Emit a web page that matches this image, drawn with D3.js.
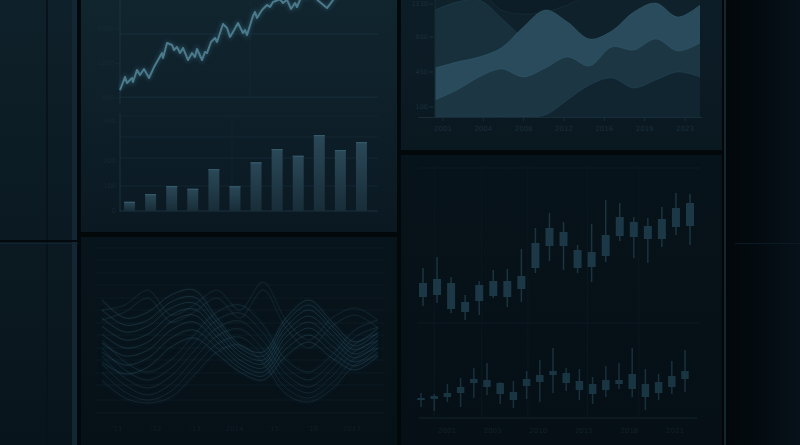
<!DOCTYPE html>
<html><head><meta charset="utf-8">
<script src="https://cdn.jsdelivr.net/npm/d3@7"></script>
<style>html,body{margin:0;padding:0;background:#050d12;overflow:hidden}svg{display:block}</style>
</head><body>
<svg id="c" width="800" height="445"></svg>
<script>
// ---------- DATA ----------
// Line chart (top-left)
const lineDays = [0,5,7,12,13,17,20,24,29,34,42,43,47,52,54,57,60,63,68,72,75,77,82,85,87,91,95,97,103,107,110,113,118,123,125,127,133,135,137,142,147,150,153,160,163,167,171,175,177,182,187,192,198,207,211,213,218,225];
const lineValues = [967,1080,1028,1072,1037,1141,1098,1150,1072,1167,1289,1246,1376,1359,1315,1341,1289,1333,1228,1289,1254,1324,1228,1298,1289,1385,1420,1385,1541,1507,1428,1472,1550,1463,1489,1446,1611,1646,1593,1663,1707,1689,1733,1755,1724,1752,1672,1724,1689,1790,1770,1810,1745,1680,1724,1750,1800,1830];
const lineTicks = [900,1200,1500];
const lineGrid = [905,1455];

// Bar chart (top-left, lower)
const barCats = ["Jan","Feb","Mar","Apr","May","Jun","Jul","Aug","Sep","Oct","Nov","Dec"];
const barValues = [37,68,100,89,168,99,195,248,221,304,244,276];
const barTicks = [0,100,200,360];
const barGrid = [0,100,212,296,380];

// Wave lines (bottom-left)
const waveKnots = [0,1,2,3,4,5,6,7,8,9,10,11,12];
const waveA1 = [120,102,108,125,130,102,75,68,102,120,98,78,92];
const waveA2 = [110,95,100,118,123,98,72,64,98,115,94,74,88];
const waveA3 = [102,88,94,112,117,93,68,60,93,110,90,70,84];
const waveA4 = [94,80,86,105,111,88,64,56,88,104,85,66,80];
const waveA5 = [86,72,78,98,105,83,60,52,83,98,80,62,76];
const waveA6 = [77,64,70,90,98,78,56,48,77,92,74,58,72];
const waveA7 = [68,55,62,82,90,72,52,44,71,85,68,54,68];
const waveA8 = [58,46,53,73,82,66,48,40,64,78,62,50,64];
const waveB1 = [80,58,48,60,85,108,115,95,60,48,65,90,100];
const waveB2 = [72,50,40,52,77,100,107,87,53,40,58,83,93];
const waveB3 = [64,42,32,44,69,92,99,79,46,33,51,76,86];
const waveB4 = [56,35,25,36,61,84,91,71,39,27,44,69,79];
const waveB5 = [48,28,20,29,53,76,83,64,32,22,37,62,72];
const waveB6 = [40,22,17,23,45,68,75,57,26,18,31,55,65];
const waveC1 = [110,115,130,105,115,130,110,138,100,80,102,112,100];
const waveC2 = [100,108,122,98,108,122,102,130,92,72,94,105,92];
const waveGrid = [172,160,147,135,122,110,97,85,72,60,47,35,20,7];
const waveLabels = ["'11","'12","'13","2014","'15","'16","2017"];

// Area chart (top-right)
const areaYears = [2000,2002,2004,2006,2008,2010,2012,2014,2016,2018,2020,2022,2024];
const area0 = [1270,1270,1270,1070,1030,1050,1120,1220,1270,1270,1270,1270,1270];
const area1 = [1070,1150,1170,990,790,670,620,570,590,650,690,670,710];
const area2 = [490,550,600,690,900,1070,950,780,860,1050,1140,1000,1120];
const area3 = [170,270,400,480,400,490,600,510,700,670,780,660,740];
const area4 = [0,0,0,0,0,20,170,320,390,290,370,450,400];
const areaTicks = [100,450,800,1130];
const areaLabels = ["2001","2004","2008","2012","2016","2019","2023"];

// Candles (bottom-right): [open, close, high, low]
const candlesUpper = [
 [153,167,182,144],[155,171,193,147],[167,141,173,137],[148,138,155,130],[149,165,169,135],
 [169,154,180,152],[153,169,181,143],[161,174,201,148],[182,207,222,177],[204,222,237,189],
 [218,204,228,180],[200,182,205,177],[183,198,226,168],[194,215,250,188],[214,233,247,209],
 [228,213,233,192],[211,224,232,187],[211,231,243,203],[223,242,257,215],[224,247,256,205]];
const candlesLower = [
 [50,52,57,43],[51,54,56,39],[53,57,66,48],[57,63,72,43],[67,71,82,52],[70,63,87,55],
 [67,56,68,46],[58,50,69,42],[64,71,79,51],[68,75,90,48],[75,79,102,57],[77,67,82,59],
 [69,60,81,50],[66,56,73,46],[60,70,84,53],[66,70,87,61],[61,76,102,53],[66,53,81,40],
 [57,68,76,50],[63,74,89,56],[71,79,100,58]];
const candleLabels = ["2001","2003","2010","2015","2018","2021"];
const candleGridIdx = [1,4.6,8.1,12.6,16.5];
const candleGridY = [282,127];

// ---------- DRAW ----------
const svg = d3.select('#c');
const defs = svg.append('defs');
function grad(id, x2, y2, stops){
  const g = defs.append('linearGradient').attr('id',id).attr('x1',0).attr('y1',0).attr('x2',x2).attr('y2',y2);
  stops.forEach(([o,c])=>g.append('stop').attr('offset',o).attr('stop-color',c));
}
grad('gLeft',0,1,[[0,'#0e2029'],[1,'#08141b']]);
grad('gA',0,1,[[0,'#11252f'],[0.5,'#0e1f29'],[1,'#0a1821']]);
grad('gB',0,1,[[0,'#08141b'],[1,'#061017']]);
grad('gC',0,1,[[0,'#0d1d27'],[1,'#0a1820']]);
grad('gD',0,1,[[0,'#07131a'],[1,'#050f15']]);
grad('gR',1,0,[[0,'#02070a'],[1,'#061119']]);
grad('gBar',0,1,[[0,'#2a4858'],[1,'#182d38']]);
const f = defs.append('filter').attr('id','glow').attr('x','-20%').attr('y','-20%').attr('width','140%').attr('height','140%');
f.append('feGaussianBlur').attr('stdDeviation',2);
defs.append('clipPath').attr('id','clipArea').append('rect').attr('x',435).attr('y',0).attr('width',265).attr('height',117);
defs.append('clipPath').attr('id','clipLine').append('rect').attr('x',118).attr('y',0).attr('width',262).attr('height',115);

const rect=(x,y,w,h,fill)=>svg.append('rect').attr('x',x).attr('y',y).attr('width',w).attr('height',h).attr('fill',fill);
rect(0,0,800,445,'#050d12');
rect(0,0,80,445,'url(#gLeft)');
rect(46,0,2,445,'#07121a');
rect(72,0,5,445,'#132631');
rect(77,0,4,445,'#03080c');
rect(0,240,78,2,'#04090d');
rect(0,243,78,1,'#112230');
rect(81,0,316,232,'url(#gA)');
rect(78,232,322,5,'#03080b');
rect(81,237,316,208,'url(#gB)');
rect(397,0,4,445,'#03080b');
rect(401,0,321,150,'url(#gC)');
rect(401,150,321,5,'#03080b');
rect(401,155,321,290,'url(#gD)');
rect(722,0,2,445,'#020507');
rect(724,0,2,445,'#14262f');
rect(726,0,74,445,'url(#gR)');
rect(735,243,65,1,'#0b1a22');

const font = 'DejaVu Sans, sans-serif';
function label(g,x,y,t,anchor,fill,size){
  g.append('text').attr('x',x).attr('y',y).attr('text-anchor',anchor).attr('dominant-baseline','middle')
   .attr('font-family',font).attr('font-size',size||7).attr('fill',fill).text(t);
}

// ---- Line chart ----
const gL = svg.append('g');
const xL = d3.scaleLinear().domain([0,260]).range([120,380]);
const yL = d3.scaleLinear().domain([750,1750]).range([115,0]);
lineGrid.forEach(v=>gL.append('line').attr('x1',120).attr('x2',378).attr('y1',yL(v)).attr('y2',yL(v)).attr('stroke','#17303c').attr('stroke-width',1));
gL.append('line').attr('x1',250).attr('x2',250).attr('y1',0).attr('y2',97).attr('stroke','#122833');
gL.append('line').attr('x1',120).attr('x2',120).attr('y1',0).attr('y2',104).attr('stroke','#1a3340');
lineTicks.forEach(v=>{
  label(gL,114,yL(v),String(v),'end','#172a34',6.5);
  gL.append('line').attr('x1',115).attr('x2',119).attr('y1',yL(v)).attr('y2',yL(v)).attr('stroke','#172a34');
});
const lineGen = d3.line().x((d,i)=>xL(lineDays[i])).y(d=>yL(d));
const gLc = gL.append('g').attr('clip-path','url(#clipLine)');
gLc.append('path').attr('d',lineGen(lineValues)).attr('fill','none').attr('stroke','#3f7385').attr('stroke-width',3).attr('opacity',0.45).attr('filter','url(#glow)');
gLc.append('path').attr('d',lineGen(lineValues)).attr('fill','none').attr('stroke','#4a7a8b').attr('stroke-width',2).attr('stroke-linejoin','round');

// ---- Bar chart ----
const gBar = svg.append('g');
const xB = d3.scaleBand().domain(barCats).range([119,372]).paddingInner(0.48).paddingOuter(0.24);
const yB = d3.scaleLinear().domain([0,380]).range([211,116]);
barGrid.forEach(v=>gBar.append('line').attr('x1',120).attr('x2',378).attr('y1',yB(v)).attr('y2',yB(v)).attr('stroke',v===0?'#1b3340':'#132733'));
gBar.append('line').attr('x1',232).attr('x2',232).attr('y1',116).attr('y2',211).attr('stroke','#10232d');
gBar.append('line').attr('x1',120).attr('x2',120).attr('y1',113).attr('y2',212).attr('stroke','#1a3340');
barTicks.forEach(v=>label(gBar,116,yB(v),String(v),'end','#162833',6.5));
barCats.forEach((c,i)=>{
  gBar.append('rect').attr('x',xB(c)).attr('y',yB(barValues[i])).attr('width',xB.bandwidth()).attr('height',yB(0)-yB(barValues[i])).attr('fill','url(#gBar)');
  gBar.append('rect').attr('x',xB(c)).attr('y',yB(barValues[i])).attr('width',xB.bandwidth()).attr('height',1.2).attr('fill','#36596a');
});

// ---- Wave chart ----
const gW = svg.append('g');
const xW = d3.scaleLinear().domain([0,12]).range([102,378]);
const yW = d3.scaleLinear().domain([0,180]).range([420,240]);
waveGrid.forEach(v=>gW.append('line').attr('x1',96).attr('x2',384).attr('y1',yW(v)).attr('y2',yW(v)).attr('stroke','#0c1a22'));
const wGen = d3.line().x((d,i)=>xW(waveKnots[i])).y(d=>yW(d)).curve(d3.curveCatmullRom.alpha(0.5));
[waveC1,waveC2].forEach(w=>{
  gW.append('path').attr('d',wGen(w)).attr('fill','none').attr('stroke','#1f3845').attr('stroke-width',1.4).attr('opacity',0.35);
});
[waveB1,waveB2,waveB3,waveB4,waveB5,waveB6].forEach((w,k)=>{
  gW.append('path').attr('d',wGen(w)).attr('fill','none').attr('stroke','#2a4c5d').attr('stroke-width',1.2).attr('opacity',0.25).attr('filter','url(#glow)');
  gW.append('path').attr('d',wGen(w)).attr('fill','none').attr('stroke','#2c5062').attr('stroke-width',0.8).attr('opacity',0.4);
});
[waveA1,waveA2,waveA3,waveA4,waveA5,waveA6,waveA7,waveA8].forEach((w,k)=>{
  gW.append('path').attr('d',wGen(w)).attr('fill','none').attr('stroke','#2f5a6e').attr('stroke-width',1.2).attr('opacity',0.22).attr('filter','url(#glow)');
  gW.append('path').attr('d',wGen(w)).attr('fill','none').attr('stroke','#335d70').attr('stroke-width',0.8).attr('opacity',0.45);
});
const xWl = d3.scalePoint().domain(waveLabels).range([117,352]);
waveLabels.forEach(t=>label(gW,xWl(t),429,t,'middle','#101e26',7));

// ---- Area chart ----
const gA = svg.append('g');
const xA = d3.scaleLinear().domain([2000,2024]).range([435,700]);
const yA = d3.scaleLinear().domain([0,1170]).range([117,0]);
const aGen = d3.area().x((d,i)=>xA(areaYears[i])).y0(yA(0)).y1(d=>yA(d)).curve(d3.curveCatmullRom.alpha(0.5));
const tGen = d3.line().x((d,i)=>xA(areaYears[i])).y(d=>yA(d)).curve(d3.curveCatmullRom.alpha(0.5));
const gAc = gA.append('g').attr('clip-path','url(#clipArea)');
const layers = [[area0,'#0f212b',0.12],[area1,'#17303c',0.18],[area2,'#294b5b',0.3],[area3,'#1c3644',0.22],[area4,'#112531',0.15]];
layers.forEach(([d,c,so])=>{
  gAc.append('path').attr('d',aGen(d)).attr('fill',c);
  gAc.append('path').attr('d',tGen(d)).attr('fill','none').attr('stroke','#4a7a8c').attr('stroke-opacity',so).attr('stroke-width',1);
});
gA.append('line').attr('x1',435).attr('x2',435).attr('y1',0).attr('y2',117).attr('stroke','#182c37');
gA.append('line').attr('x1',418).attr('x2',702).attr('y1',117.5).attr('y2',117.5).attr('stroke','#182c37');
areaTicks.forEach(v=>{
  label(gA,428,yA(v),String(v),'end','#1a2e3a',6.5);
  gA.append('line').attr('x1',429).attr('x2',433).attr('y1',yA(v)).attr('y2',yA(v)).attr('stroke','#1a2e3a');
});
const xAl = d3.scalePoint().domain(areaLabels).range([443,685]);
areaLabels.forEach(t=>{
  gA.append('line').attr('x1',xAl(t)).attr('x2',xAl(t)).attr('y1',118).attr('y2',121).attr('stroke','#182c37');
  label(gA,xAl(t),129,t,'middle','#1a2f3b',7);
});

// ---- Candles ----
const gD = svg.append('g');
const yD = d3.scaleLinear().domain([0,270]).range([450,180]);
const xDu = d3.scalePoint().domain(d3.range(candlesUpper.length)).range([423,690]);
const xDl = d3.scalePoint().domain(d3.range(candlesLower.length)).range([421,685]);
const xDg = d3.scaleLinear().domain([0,20]).range([421,685]);
candleGridIdx.forEach(v=>gD.append('line').attr('x1',xDg(v)).attr('x2',xDg(v)).attr('y1',165).attr('y2',417).attr('stroke','#0b1820'));
candleGridY.forEach(v=>gD.append('line').attr('x1',418).attr('x2',700).attr('y1',yD(v)).attr('y2',yD(v)).attr('stroke','#0d1b23'));
gD.append('line').attr('x1',419).attr('x2',697).attr('y1',418).attr('y2',418).attr('stroke','#13242d');
function candles(data, xs, bw, body, wick){
  data.forEach((d,i)=>{
    const [o,c,h,l]=d; const x=xs(i);
    gD.append('line').attr('x1',x).attr('x2',x).attr('y1',yD(h)).attr('y2',yD(l)).attr('stroke',wick).attr('stroke-width',1.5);
    gD.append('rect').attr('x',x-bw/2).attr('y',yD(Math.max(o,c))).attr('width',bw).attr('height',Math.max(1.5,Math.abs(yD(o)-yD(c)))).attr('fill',body);
  });
}
candles(candlesUpper, xDu, 8, '#1c3846', '#1b3440');
candles(candlesLower, xDl, 7.5, '#1a3542', '#19313c');
const xDlab = d3.scalePoint().domain(candleLabels).range([447,675]);
candleLabels.forEach(t=>label(gD,xDlab(t),431,t,'middle','#112029',7));
</script>
</body></html>
